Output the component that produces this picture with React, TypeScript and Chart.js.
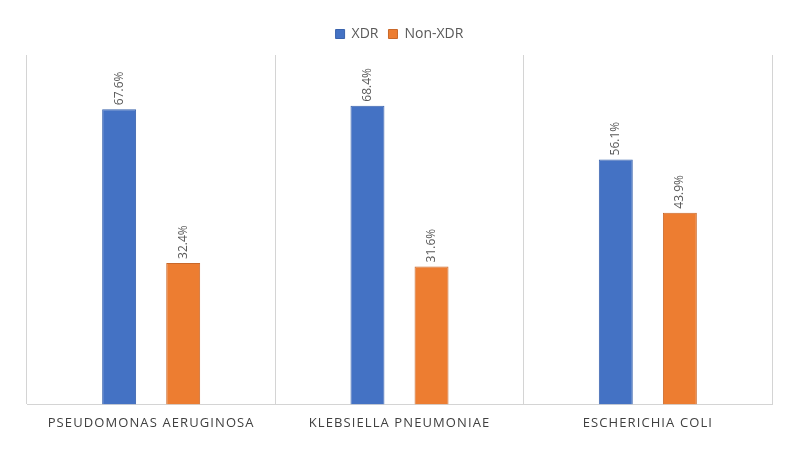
import React, { useEffect, useRef } from "react";
import { Chart, registerables } from "chart.js";

Chart.register(...registerables);

const categories = ["PSEUDOMONAS AERUGINOSA", "KLEBSIELLA PNEUMONIAE", "ESCHERICHIA COLI"];
const xdrValues = [67.6, 68.4, 56.1];
const nonXdrValues = [32.4, 31.6, 43.9];
const seriesNames = ["XDR", "Non-XDR"];

const FONT = "'Open Sans', 'Noto Sans', sans-serif";

const barLabelPlugin = {
  id: "barLabels",
  afterDatasetsDraw(chart: any) {
    const ctx = chart.ctx;
    ctx.save();
    ctx.fillStyle = "#595959";
    ctx.font = `12px ${FONT}`;
    ctx.textAlign = "left";
    ctx.textBaseline = "middle";
    chart.data.datasets.forEach((ds: any, di: number) => {
      const meta = chart.getDatasetMeta(di);
      meta.data.forEach((bar: any, i: number) => {
        const v = ds.data[i];
        ctx.save();
        ctx.translate(bar.x, bar.y - 4);
        ctx.rotate(-Math.PI / 2);
        ctx.fillText(v.toFixed(1) + "%", 0, 0);
        ctx.restore();
      });
    });
    ctx.restore();
  },
};

const xLabelPlugin = {
  id: "xLabels",
  afterDraw(chart: any) {
    const ctx = chart.ctx;
    const xs = chart.scales.x;
    ctx.save();
    ctx.fillStyle = "#404040";
    ctx.font = `13px ${FONT}`;
    (ctx as any).letterSpacing = "1.1px";
    ctx.textAlign = "center";
    ctx.textBaseline = "middle";
    categories.forEach((c, i) => {
      ctx.fillText(c, xs.getPixelForValue(i), chart.chartArea.bottom + 19);
    });
    ctx.restore();
  },
};

const legendSpacer = {
  id: "legendSpacer",
  beforeInit(chart: any) {
    const orig = chart.legend && chart.legend.fit;
    if (chart.legend && orig) {
      chart.legend.fit = function () {
        orig.bind(chart.legend)();
        this.height += 4;
      };
    }
  },
};

export default function App() {
  const ref = useRef<HTMLCanvasElement>(null);
  useEffect(() => {
    if (!ref.current) return;
    const chart = new Chart(ref.current, {
      type: "bar",
      data: {
        labels: categories,
        datasets: [
          {
            label: seriesNames[0],
            data: xdrValues,
            backgroundColor: "#4472C4",
            borderColor: "#3A63AD",
            borderWidth: 1,
            barPercentage: 0.53,
            categoryPercentage: 0.516,
          },
          {
            label: seriesNames[1],
            data: nonXdrValues,
            backgroundColor: "#ED7D31",
            borderColor: "#C9682A",
            borderWidth: 1,
            barPercentage: 0.53,
            categoryPercentage: 0.516,
          },
        ],
      },
      options: {
        animation: false,
        responsive: true,
        maintainAspectRatio: false,
        layout: { padding: { left: 19, right: 20, top: 9, bottom: 22 } },
        plugins: {
          legend: {
            position: "top",
            labels: {
              boxWidth: 9,
              boxHeight: 9,
              padding: 10,
              color: "#595959",
              font: { family: FONT, size: 14 },
            },
          },
          tooltip: { enabled: false },
        },
        scales: {
          x: {
            offset: true,
            grid: { display: true, color: "#D4D4D4", lineWidth: 1, drawTicks: false, offset: true },
            border: { display: true, color: "#D4D4D4" },
            ticks: {
              color: "rgba(0,0,0,0)",
              font: { family: FONT, size: 13 },
              padding: 0,
              maxRotation: 0,
              minRotation: 0,
              autoSkip: false,
            },
          },
          y: {
            display: false,
            min: 0,
            max: 80,
          },
        },
      },
      plugins: [barLabelPlugin, xLabelPlugin, legendSpacer],
    });
    return () => chart.destroy();
  }, []);
  return (
    <div style={{ width: 784, height: 434 }}>
      <canvas ref={ref} />
    </div>
  );
}
